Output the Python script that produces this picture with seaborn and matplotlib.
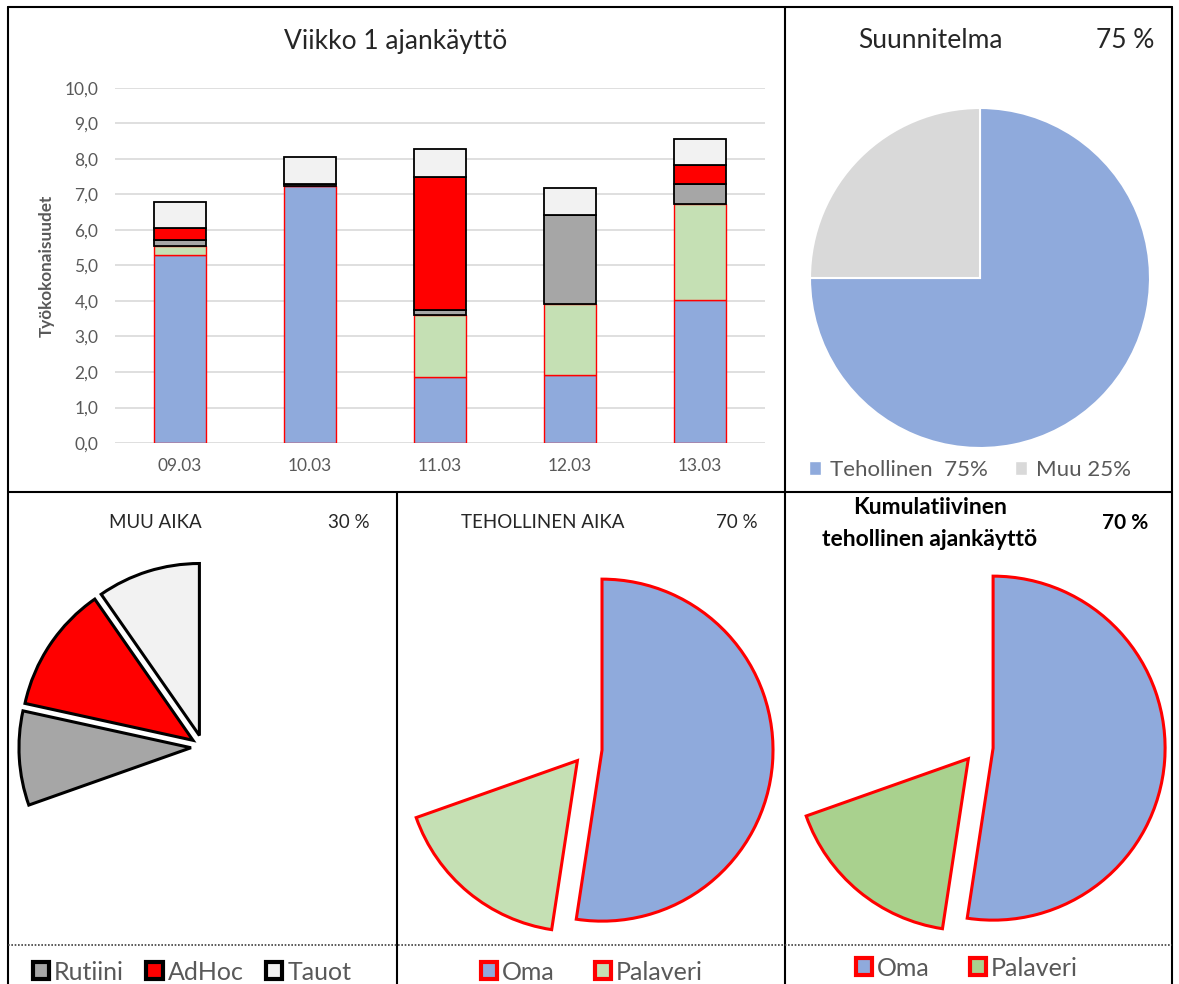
import numpy as np
import pandas as pd
import seaborn as sns
import matplotlib.pyplot as plt
from matplotlib.patches import Patch
from matplotlib.lines import Line2D

# Style
sns.set_theme(style="white")
plt.rcParams['font.family'] = ['Lato', 'DejaVu Sans']

W, H = 1179, 984

# Data (hours per day)
days = ['09.03', '10.03', '11.03', '12.03', '13.03']
oma = [5.30, 7.25, 1.87, 1.92, 4.03]
palaveri = [0.25, 0.00, 1.73, 2.00, 2.70]
rutiini = [0.17, 0.05, 0.15, 2.50, 0.57]
adhoc = [0.35, 0.00, 3.75, 0.00, 0.52]
tauot = [0.73, 0.75, 0.78, 0.77, 0.73]

categories = ['Oma', 'Palaveri', 'Rutiini', 'AdHoc', 'Tauot']
plan_labels = ['Tehollinen  75%', 'Muu 25%']
plan_values = [75, 25]
yticks = np.arange(0, 11, 1)

df = pd.DataFrame({'day': days, 'Oma': oma, 'Palaveri': palaveri,
                   'Rutiini': rutiini, 'AdHoc': adhoc, 'Tauot': tauot})
week_sum = df[categories].sum()

face = {'Oma': '#8FAADC', 'Palaveri': '#C5E0B4', 'Rutiini': '#A6A6A6',
        'AdHoc': '#FF0000', 'Tauot': '#F2F2F2'}
edge = {'Oma': '#FF0000', 'Palaveri': '#FF0000', 'Rutiini': 'black',
        'AdHoc': 'black', 'Tauot': 'black'}
GREY_TXT = '#595959'

fig = plt.figure(figsize=(W / 100, H / 100), dpi=100)
fig.patch.set_facecolor('white')


def px_axes(x0, y0, x1, y1):
    return fig.add_axes([x0 / W, 1 - y1 / H, (x1 - x0) / W, (y1 - y0) / H])


def fline(x0, y0, x1, y1, **kw):
    fig.add_artist(Line2D([x0 / W, x1 / W], [1 - y0 / H, 1 - y1 / H],
                          transform=fig.transFigure, **kw))


def ftext(x, y, s, **kw):
    fig.text(x / W, 1 - y / H, s, ha='center', va='center', **kw)


# Stacked bars
ax = px_axes(115, 88, 765, 443)
bottom = np.zeros(len(days))
for cat in categories:
    vals = df[cat].values
    sns.barplot(x=df['day'], y=vals, bottom=bottom, color=face[cat],
                edgecolor=edge[cat], linewidth=1.3 if edge[cat] == 'black' else 1.0,
                width=0.4, saturation=1, errorbar=None, ax=ax, zorder=3)
    bottom = bottom + vals
ax.set_ylim(0, 10)
ax.set_xlim(-0.5, len(days) - 0.5)
ax.set_yticks(yticks)
ax.set_yticklabels([f"{v:.1f}".replace('.', ',') for v in yticks])
ax.yaxis.grid(True, color='#D9D9D9', linewidth=1.2)
ax.set_axisbelow(True)
for s in ax.spines.values():
    s.set_visible(False)
ax.tick_params(axis='both', length=0, labelsize=12.5, labelcolor=GREY_TXT)
ax.tick_params(axis='y', pad=12)
ax.tick_params(axis='x', pad=11)
ax.set_xlabel('')
ax.set_ylabel('Työkokonaisuudet', fontsize=12.3, color=GREY_TXT,
              fontweight='bold', labelpad=7)
ftext(396, 42, 'Viikko 1 ajankäyttö', fontsize=19, color='#262626')

# Plan pie
cx, cy, R = 980, 278, 170
axp = px_axes(cx - R, cy - R, cx + R, cy + R)
axp.pie(plan_values, colors=['#8FAADC', '#D9D9D9'], startangle=90,
        counterclock=False, wedgeprops=dict(edgecolor='white', linewidth=1.5))
axp.set_xlim(-1, 1)
axp.set_ylim(-1, 1)
axp.axis('off')
ftext(930, 40, 'Suunnitelma', fontsize=19, color='#262626')
ftext(1125, 40, '75 %', fontsize=19, color='#262626')
fig.legend(handles=[Patch(facecolor='#8FAADC'), Patch(facecolor='#D9D9D9')],
           labels=plan_labels, loc='center', bbox_to_anchor=(970 / W, 1 - 470 / H),
           ncol=2, frameon=False, fontsize=16, labelcolor=GREY_TXT,
           handlelength=0.55, handleheight=0.55, handletextpad=0.4,
           columnspacing=1.2)


def part_pie(cx, cy, R, visible, colors, ecolor, explode):
    m = 1.25
    a = px_axes(cx - m * R, cy - m * R, cx + m * R, cy + m * R)
    wedges, _ = a.pie(week_sum.values, startangle=90, counterclock=False,
                      explode=[explode] * len(categories))
    for w, cat in zip(wedges, categories):
        if cat in visible:
            w.set_facecolor(colors[cat])
            w.set_edgecolor(ecolor)
            w.set_linewidth(2.2)
        else:
            w.set_visible(False)
    a.set_xlim(-m, m)
    a.set_ylim(-m, m)
    a.axis('off')


# MUU AIKA
part_pie(203, 747, 172, ['Rutiini', 'AdHoc', 'Tauot'], face, 'black', 0.07)
ftext(155, 522, 'MUU AIKA', fontsize=13.5, color='#262626')
ftext(349, 522, '30 %', fontsize=13.5, color='#262626')

# TEHOLLINEN AIKA
part_pie(587, 749, 171, ['Oma', 'Palaveri'], face, '#FF0000', 0.088)
ftext(543, 522, 'TEHOLLINEN AIKA', fontsize=13.5, color='#262626')
ftext(737, 522, '70 %', fontsize=13.5, color='#262626')

# Kumulatiivinen
cum_face = dict(face, Palaveri='#A9D18E')
part_pie(978, 747, 172, ['Oma', 'Palaveri'], cum_face, '#FF0000', 0.088)
ftext(930, 508, 'Kumulatiivinen', fontsize=16.5, color='black', fontweight='bold')
ftext(930, 540, 'tehollinen ajankäyttö', fontsize=16.5, color='black', fontweight='bold')
ftext(1125, 523, '70 %', fontsize=15, color='black', fontweight='bold')

# Bottom legends
muu = ['Rutiini', 'AdHoc', 'Tauot']
teh = ['Oma', 'Palaveri']
leg_kw = dict(loc='center', frameon=False, fontsize=18, labelcolor=GREY_TXT,
              handlelength=0.65, handleheight=0.65, handletextpad=0.2,
              columnspacing=0.9, borderpad=0)
fig.legend(handles=[Patch(facecolor=face[c], edgecolor='black', linewidth=3) for c in muu],
           labels=muu, bbox_to_anchor=(192 / W, 1 - 972 / H), ncol=3, **leg_kw)
fig.legend(handles=[Patch(facecolor=face[c], edgecolor='#FF0000', linewidth=3) for c in teh],
           labels=teh, bbox_to_anchor=(592 / W, 1 - 972 / H), ncol=2,
           **dict(leg_kw, columnspacing=1.6))
fig.legend(handles=[Patch(facecolor=cum_face[c], edgecolor='#FF0000', linewidth=3) for c in teh],
           labels=teh, bbox_to_anchor=(967 / W, 1 - 968 / H), ncol=2,
           **dict(leg_kw, columnspacing=1.6))

# Frame lines
lk = dict(color='black', linewidth=1.5)
fline(8, 7, 1172, 7, **lk)
fline(8, 7, 8, H, **lk)
fline(1172, 7, 1172, H, **lk)
fline(8, 492, 1172, 492, **lk)
fline(785, 7, 785, H, **lk)
fline(397, 492, 397, H, **lk)
fline(8, 945, 1172, 945, color='#404040', linewidth=1.2, linestyle=(0, (1, 1)))

fig.savefig('out.png', dpi=100, facecolor='white')
